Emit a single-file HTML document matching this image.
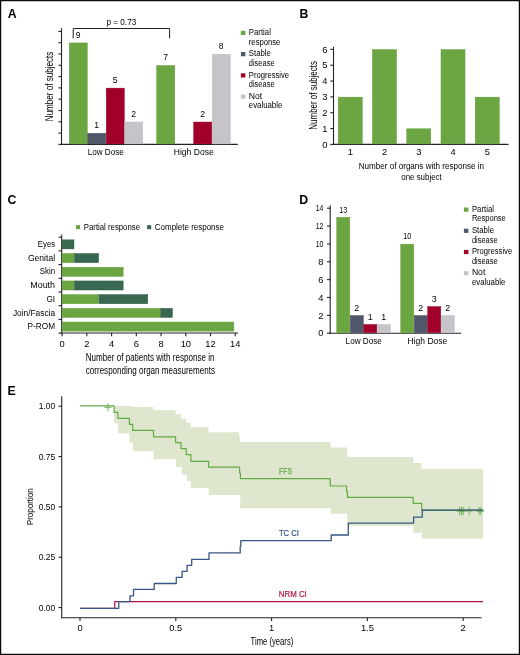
<!DOCTYPE html>
<html><head><meta charset="utf-8"><style>
html,body{margin:0;padding:0;background:#fff;}
svg{display:block;will-change:transform;}
text{font-family:"Liberation Sans", sans-serif;}
</style></head><body>
<svg width="520" height="655" viewBox="0 0 520 655">
<rect x="0" y="0" width="520" height="655" fill="#fff"/>
<text x="7.70" y="17.80" font-size="12.3" fill="#000" font-weight="bold">A</text>
<line x1="61.50" y1="28.30" x2="61.50" y2="144.95" stroke="#222222" stroke-width="1.1"/>
<line x1="58.40" y1="144.40" x2="61.50" y2="144.40" stroke="#222222" stroke-width="1.1"/>
<line x1="58.40" y1="133.10" x2="61.50" y2="133.10" stroke="#222222" stroke-width="1.1"/>
<line x1="58.40" y1="121.80" x2="61.50" y2="121.80" stroke="#222222" stroke-width="1.1"/>
<line x1="58.40" y1="110.50" x2="61.50" y2="110.50" stroke="#222222" stroke-width="1.1"/>
<line x1="58.40" y1="99.20" x2="61.50" y2="99.20" stroke="#222222" stroke-width="1.1"/>
<line x1="58.40" y1="87.90" x2="61.50" y2="87.90" stroke="#222222" stroke-width="1.1"/>
<line x1="58.40" y1="76.60" x2="61.50" y2="76.60" stroke="#222222" stroke-width="1.1"/>
<line x1="58.40" y1="65.30" x2="61.50" y2="65.30" stroke="#222222" stroke-width="1.1"/>
<line x1="58.40" y1="54.00" x2="61.50" y2="54.00" stroke="#222222" stroke-width="1.1"/>
<line x1="58.40" y1="42.70" x2="61.50" y2="42.70" stroke="#222222" stroke-width="1.1"/>
<line x1="58.40" y1="31.40" x2="61.50" y2="31.40" stroke="#222222" stroke-width="1.1"/>
<line x1="60.95" y1="144.40" x2="237.80" y2="144.40" stroke="#222222" stroke-width="1.1"/>
<rect x="69.25" y="42.95" width="18.00" height="100.95" fill="#6ba643" stroke="#5e9d35" stroke-width="0.5"/>
<text x="78.25" y="37.70" font-size="8.6" text-anchor="middle">9</text>
<rect x="87.75" y="133.35" width="18.00" height="10.55" fill="#505768" stroke="#464d5e" stroke-width="0.5"/>
<text x="96.75" y="128.10" font-size="8.6" text-anchor="middle">1</text>
<rect x="106.25" y="88.15" width="18.00" height="55.75" fill="#a2002a" stroke="#950025" stroke-width="0.5"/>
<text x="115.25" y="82.90" font-size="8.6" text-anchor="middle">5</text>
<rect x="124.75" y="122.05" width="18.00" height="21.85" fill="#c6c4c9" stroke="#bdbbc0" stroke-width="0.5"/>
<text x="133.75" y="116.80" font-size="8.6" text-anchor="middle">2</text>
<rect x="156.75" y="65.55" width="18.00" height="78.35" fill="#6ba643" stroke="#5e9d35" stroke-width="0.5"/>
<text x="165.75" y="60.30" font-size="8.6" text-anchor="middle">7</text>
<rect x="193.75" y="122.05" width="18.00" height="21.85" fill="#a2002a" stroke="#950025" stroke-width="0.5"/>
<text x="202.75" y="116.80" font-size="8.6" text-anchor="middle">2</text>
<rect x="212.25" y="54.25" width="18.00" height="89.65" fill="#c6c4c9" stroke="#bdbbc0" stroke-width="0.5"/>
<text x="221.25" y="49.00" font-size="8.6" text-anchor="middle">8</text>
<path d="M73.2 38.4V28.5H169.6V38.4" fill="none" stroke="#222222" stroke-width="1"/>
<text x="106.50" y="25.20" font-size="8.3" textLength="29.70" lengthAdjust="spacingAndGlyphs">p = 0.73</text>
<text x="87.70" y="155.00" font-size="9.3" textLength="36.10" lengthAdjust="spacingAndGlyphs">Low Dose</text>
<text x="173.80" y="155.00" font-size="9.3" textLength="39.90" lengthAdjust="spacingAndGlyphs">High Dose</text>
<text x="52.80" y="121.20" font-size="10.4" textLength="69.60" lengthAdjust="spacingAndGlyphs" transform="rotate(-90 52.80 121.20)">Number of subjects</text>
<rect x="240.90" y="30.80" width="4.50" height="4.20" fill="#6ba643"/>
<text x="248.80" y="35.20" font-size="8.5" textLength="22.10" lengthAdjust="spacingAndGlyphs">Partial</text>
<text x="248.80" y="44.70" font-size="8.5" textLength="31.60" lengthAdjust="spacingAndGlyphs">response</text>
<rect x="240.90" y="52.05" width="4.50" height="4.20" fill="#505768"/>
<text x="248.80" y="56.45" font-size="8.5" textLength="22.10" lengthAdjust="spacingAndGlyphs">Stable</text>
<text x="248.80" y="65.95" font-size="8.5" textLength="25.80" lengthAdjust="spacingAndGlyphs">disease</text>
<rect x="240.90" y="73.30" width="4.50" height="4.20" fill="#a2002a"/>
<text x="248.80" y="77.70" font-size="8.5" textLength="40.30" lengthAdjust="spacingAndGlyphs">Progressive</text>
<text x="248.80" y="87.20" font-size="8.5" textLength="25.80" lengthAdjust="spacingAndGlyphs">disease</text>
<rect x="240.90" y="94.55" width="4.50" height="4.20" fill="#c6c4c9"/>
<text x="248.80" y="98.95" font-size="8.5" textLength="13.40" lengthAdjust="spacingAndGlyphs">Not</text>
<text x="248.80" y="108.45" font-size="8.5" textLength="33.50" lengthAdjust="spacingAndGlyphs">evaluable</text>
<text x="299.50" y="17.60" font-size="12.3" fill="#000" font-weight="bold">B</text>
<line x1="333.50" y1="46.90" x2="333.50" y2="144.95" stroke="#222222" stroke-width="1.1"/>
<line x1="330.30" y1="144.40" x2="333.50" y2="144.40" stroke="#222222" stroke-width="1.1"/>
<text x="327.30" y="147.60" font-size="9.3" text-anchor="end">0</text>
<line x1="330.30" y1="128.57" x2="333.50" y2="128.57" stroke="#222222" stroke-width="1.1"/>
<text x="327.30" y="131.77" font-size="9.3" text-anchor="end">1</text>
<line x1="330.30" y1="112.74" x2="333.50" y2="112.74" stroke="#222222" stroke-width="1.1"/>
<text x="327.30" y="115.94" font-size="9.3" text-anchor="end">2</text>
<line x1="330.30" y1="96.91" x2="333.50" y2="96.91" stroke="#222222" stroke-width="1.1"/>
<text x="327.30" y="100.11" font-size="9.3" text-anchor="end">3</text>
<line x1="330.30" y1="81.08" x2="333.50" y2="81.08" stroke="#222222" stroke-width="1.1"/>
<text x="327.30" y="84.28" font-size="9.3" text-anchor="end">4</text>
<line x1="330.30" y1="65.25" x2="333.50" y2="65.25" stroke="#222222" stroke-width="1.1"/>
<text x="327.30" y="68.45" font-size="9.3" text-anchor="end">5</text>
<line x1="330.30" y1="49.42" x2="333.50" y2="49.42" stroke="#222222" stroke-width="1.1"/>
<text x="327.30" y="52.62" font-size="9.3" text-anchor="end">6</text>
<line x1="332.95" y1="144.40" x2="508.60" y2="144.40" stroke="#222222" stroke-width="1.1"/>
<rect x="338.25" y="97.16" width="24.00" height="46.74" fill="#6ba643" stroke="#5e9d35" stroke-width="0.5"/>
<text x="350.25" y="154.90" font-size="9.3" text-anchor="middle">1</text>
<rect x="372.50" y="49.67" width="24.00" height="94.23" fill="#6ba643" stroke="#5e9d35" stroke-width="0.5"/>
<text x="384.50" y="154.90" font-size="9.3" text-anchor="middle">2</text>
<rect x="406.75" y="128.82" width="24.00" height="15.08" fill="#6ba643" stroke="#5e9d35" stroke-width="0.5"/>
<text x="418.75" y="154.90" font-size="9.3" text-anchor="middle">3</text>
<rect x="441.00" y="49.67" width="24.00" height="94.23" fill="#6ba643" stroke="#5e9d35" stroke-width="0.5"/>
<text x="453.00" y="154.90" font-size="9.3" text-anchor="middle">4</text>
<rect x="475.25" y="97.16" width="24.00" height="46.74" fill="#6ba643" stroke="#5e9d35" stroke-width="0.5"/>
<text x="487.25" y="154.90" font-size="9.3" text-anchor="middle">5</text>
<text x="316.90" y="129.70" font-size="10.4" textLength="68.70" lengthAdjust="spacingAndGlyphs" transform="rotate(-90 316.90 129.70)">Number of subjects</text>
<text x="358.70" y="168.70" font-size="9.6" textLength="125.40" lengthAdjust="spacingAndGlyphs">Number of organs with response in</text>
<text x="401.30" y="179.60" font-size="9.6" textLength="40.40" lengthAdjust="spacingAndGlyphs">one subject</text>
<text x="7.60" y="203.80" font-size="12.3" fill="#000" font-weight="bold">C</text>
<rect x="76.00" y="225.10" width="4.10" height="4.10" fill="#6ba643"/>
<text x="83.80" y="229.60" font-size="8.3" textLength="56.20" lengthAdjust="spacingAndGlyphs">Partial response</text>
<rect x="147.10" y="225.10" width="4.10" height="4.10" fill="#38684f"/>
<text x="154.80" y="229.60" font-size="8.3" textLength="69.20" lengthAdjust="spacingAndGlyphs">Complete response</text>
<line x1="61.70" y1="234.40" x2="61.70" y2="333.55" stroke="#222222" stroke-width="1.1"/>
<line x1="58.50" y1="237.20" x2="61.70" y2="237.20" stroke="#222222" stroke-width="1.1"/>
<line x1="58.50" y1="250.90" x2="61.70" y2="250.90" stroke="#222222" stroke-width="1.1"/>
<line x1="58.50" y1="264.60" x2="61.70" y2="264.60" stroke="#222222" stroke-width="1.1"/>
<line x1="58.50" y1="278.30" x2="61.70" y2="278.30" stroke="#222222" stroke-width="1.1"/>
<line x1="58.50" y1="292.00" x2="61.70" y2="292.00" stroke="#222222" stroke-width="1.1"/>
<line x1="58.50" y1="305.70" x2="61.70" y2="305.70" stroke="#222222" stroke-width="1.1"/>
<line x1="58.50" y1="319.40" x2="61.70" y2="319.40" stroke="#222222" stroke-width="1.1"/>
<line x1="58.50" y1="333.10" x2="61.70" y2="333.10" stroke="#222222" stroke-width="1.1"/>
<line x1="61.15" y1="333.00" x2="238.00" y2="333.00" stroke="#222222" stroke-width="1.1"/>
<line x1="62.10" y1="333.00" x2="62.10" y2="336.20" stroke="#222222" stroke-width="1.1"/>
<text x="62.10" y="347.20" font-size="9.3" text-anchor="middle">0</text>
<line x1="86.84" y1="333.00" x2="86.84" y2="336.20" stroke="#222222" stroke-width="1.1"/>
<text x="86.84" y="347.20" font-size="9.3" text-anchor="middle">2</text>
<line x1="111.58" y1="333.00" x2="111.58" y2="336.20" stroke="#222222" stroke-width="1.1"/>
<text x="111.58" y="347.20" font-size="9.3" text-anchor="middle">4</text>
<line x1="136.32" y1="333.00" x2="136.32" y2="336.20" stroke="#222222" stroke-width="1.1"/>
<text x="136.32" y="347.20" font-size="9.3" text-anchor="middle">6</text>
<line x1="161.06" y1="333.00" x2="161.06" y2="336.20" stroke="#222222" stroke-width="1.1"/>
<text x="161.06" y="347.20" font-size="9.3" text-anchor="middle">8</text>
<line x1="185.80" y1="333.00" x2="185.80" y2="336.20" stroke="#222222" stroke-width="1.1"/>
<text x="185.80" y="347.20" font-size="9.3" text-anchor="middle">10</text>
<line x1="210.54" y1="333.00" x2="210.54" y2="336.20" stroke="#222222" stroke-width="1.1"/>
<text x="210.54" y="347.20" font-size="9.3" text-anchor="middle">12</text>
<line x1="235.28" y1="333.00" x2="235.28" y2="336.20" stroke="#222222" stroke-width="1.1"/>
<text x="235.28" y="347.20" font-size="9.3" text-anchor="middle">14</text>
<rect x="62.15" y="239.85" width="11.80" height="9.05" fill="#38684f" stroke="#2f5c44" stroke-width="0.5"/>
<text x="55.10" y="247.00" font-size="8.9" text-anchor="end" textLength="17.30" lengthAdjust="spacingAndGlyphs">Eyes</text>
<rect x="62.15" y="253.55" width="11.80" height="9.05" fill="#6ba643" stroke="#5e9d35" stroke-width="0.5"/>
<rect x="74.45" y="253.55" width="24.10" height="9.05" fill="#38684f" stroke="#2f5c44" stroke-width="0.5"/>
<text x="55.10" y="260.70" font-size="8.9" text-anchor="end" textLength="27.20" lengthAdjust="spacingAndGlyphs">Genital</text>
<rect x="62.15" y="267.25" width="61.00" height="9.05" fill="#6ba643" stroke="#5e9d35" stroke-width="0.5"/>
<text x="55.10" y="274.40" font-size="8.9" text-anchor="end" textLength="15.30" lengthAdjust="spacingAndGlyphs">Skin</text>
<rect x="62.15" y="280.95" width="11.80" height="9.05" fill="#6ba643" stroke="#5e9d35" stroke-width="0.5"/>
<rect x="74.45" y="280.95" width="48.70" height="9.05" fill="#38684f" stroke="#2f5c44" stroke-width="0.5"/>
<text x="55.10" y="288.10" font-size="8.9" text-anchor="end" textLength="24.90" lengthAdjust="spacingAndGlyphs">Mouth</text>
<rect x="62.15" y="294.65" width="36.40" height="9.05" fill="#6ba643" stroke="#5e9d35" stroke-width="0.5"/>
<rect x="99.05" y="294.65" width="48.70" height="9.05" fill="#38684f" stroke="#2f5c44" stroke-width="0.5"/>
<text x="55.10" y="301.80" font-size="8.9" text-anchor="end" textLength="8.60" lengthAdjust="spacingAndGlyphs">GI</text>
<rect x="62.15" y="308.35" width="97.90" height="9.05" fill="#6ba643" stroke="#5e9d35" stroke-width="0.5"/>
<rect x="160.55" y="308.35" width="11.80" height="9.05" fill="#38684f" stroke="#2f5c44" stroke-width="0.5"/>
<text x="55.10" y="315.50" font-size="8.9" text-anchor="end" textLength="42.20" lengthAdjust="spacingAndGlyphs">Join/Fascia</text>
<rect x="62.15" y="322.05" width="171.70" height="9.05" fill="#6ba643" stroke="#5e9d35" stroke-width="0.5"/>
<text x="55.10" y="329.20" font-size="8.9" text-anchor="end" textLength="27.50" lengthAdjust="spacingAndGlyphs">P-ROM</text>
<text x="85.80" y="361.30" font-size="10.0" textLength="128.70" lengthAdjust="spacingAndGlyphs">Number of patients with response in</text>
<text x="85.80" y="374.00" font-size="10.0" textLength="129.20" lengthAdjust="spacingAndGlyphs">corresponding organ measurements</text>
<text x="299.20" y="203.60" font-size="12.3" fill="#000" font-weight="bold">D</text>
<line x1="330.20" y1="205.30" x2="330.20" y2="333.75" stroke="#222222" stroke-width="1.1"/>
<line x1="327.00" y1="333.20" x2="330.20" y2="333.20" stroke="#222222" stroke-width="1.1"/>
<text x="323.40" y="336.40" font-size="9.3" text-anchor="end">0</text>
<line x1="327.00" y1="315.34" x2="330.20" y2="315.34" stroke="#222222" stroke-width="1.1"/>
<text x="323.40" y="318.54" font-size="9.3" text-anchor="end">2</text>
<line x1="327.00" y1="297.48" x2="330.20" y2="297.48" stroke="#222222" stroke-width="1.1"/>
<text x="323.40" y="300.68" font-size="9.3" text-anchor="end">4</text>
<line x1="327.00" y1="279.62" x2="330.20" y2="279.62" stroke="#222222" stroke-width="1.1"/>
<text x="323.40" y="282.82" font-size="9.3" text-anchor="end">6</text>
<line x1="327.00" y1="261.76" x2="330.20" y2="261.76" stroke="#222222" stroke-width="1.1"/>
<text x="323.40" y="264.96" font-size="9.3" text-anchor="end">8</text>
<line x1="327.00" y1="243.90" x2="330.20" y2="243.90" stroke="#222222" stroke-width="1.1"/>
<text x="323.40" y="247.10" font-size="9.3" text-anchor="end" textLength="7.70" lengthAdjust="spacingAndGlyphs">10</text>
<line x1="327.00" y1="226.04" x2="330.20" y2="226.04" stroke="#222222" stroke-width="1.1"/>
<text x="323.40" y="229.24" font-size="9.3" text-anchor="end" textLength="7.70" lengthAdjust="spacingAndGlyphs">12</text>
<line x1="327.00" y1="208.18" x2="330.20" y2="208.18" stroke="#222222" stroke-width="1.1"/>
<text x="323.40" y="211.38" font-size="9.3" text-anchor="end" textLength="7.70" lengthAdjust="spacingAndGlyphs">14</text>
<line x1="329.65" y1="333.20" x2="461.00" y2="333.20" stroke="#222222" stroke-width="1.1"/>
<rect x="336.75" y="217.36" width="13.00" height="115.34" fill="#6ba643" stroke="#5e9d35" stroke-width="0.5"/>
<text x="343.25" y="212.61" font-size="8.9" text-anchor="middle" textLength="7.90" lengthAdjust="spacingAndGlyphs">13</text>
<rect x="350.25" y="315.59" width="13.00" height="17.11" fill="#505768" stroke="#464d5e" stroke-width="0.5"/>
<text x="356.75" y="310.84" font-size="8.9" text-anchor="middle">2</text>
<rect x="363.75" y="324.52" width="13.00" height="8.18" fill="#a2002a" stroke="#950025" stroke-width="0.5"/>
<text x="370.25" y="319.77" font-size="8.9" text-anchor="middle">1</text>
<rect x="377.25" y="324.52" width="13.00" height="8.18" fill="#c6c4c9" stroke="#bdbbc0" stroke-width="0.5"/>
<text x="383.75" y="319.77" font-size="8.9" text-anchor="middle">1</text>
<rect x="400.75" y="244.15" width="13.00" height="88.55" fill="#6ba643" stroke="#5e9d35" stroke-width="0.5"/>
<text x="407.25" y="239.40" font-size="8.9" text-anchor="middle" textLength="7.90" lengthAdjust="spacingAndGlyphs">10</text>
<rect x="414.25" y="315.59" width="13.00" height="17.11" fill="#505768" stroke="#464d5e" stroke-width="0.5"/>
<text x="420.75" y="310.84" font-size="8.9" text-anchor="middle">2</text>
<rect x="427.75" y="306.66" width="13.00" height="26.04" fill="#a2002a" stroke="#950025" stroke-width="0.5"/>
<text x="434.25" y="301.91" font-size="8.9" text-anchor="middle">3</text>
<rect x="441.25" y="315.59" width="13.00" height="17.11" fill="#c6c4c9" stroke="#bdbbc0" stroke-width="0.5"/>
<text x="447.75" y="310.84" font-size="8.9" text-anchor="middle">2</text>
<text x="345.60" y="344.00" font-size="9.3" textLength="36.30" lengthAdjust="spacingAndGlyphs">Low Dose</text>
<text x="407.60" y="344.00" font-size="9.3" textLength="39.70" lengthAdjust="spacingAndGlyphs">High Dose</text>
<rect x="463.90" y="207.50" width="4.50" height="4.20" fill="#6ba643"/>
<text x="471.90" y="211.80" font-size="8.5" textLength="22.10" lengthAdjust="spacingAndGlyphs">Partial</text>
<text x="471.90" y="221.30" font-size="8.5" textLength="33.90" lengthAdjust="spacingAndGlyphs">Response</text>
<rect x="463.90" y="228.70" width="4.50" height="4.20" fill="#505768"/>
<text x="471.90" y="233.00" font-size="8.5" textLength="22.10" lengthAdjust="spacingAndGlyphs">Stable</text>
<text x="471.90" y="242.50" font-size="8.5" textLength="25.80" lengthAdjust="spacingAndGlyphs">disease</text>
<rect x="463.90" y="249.90" width="4.50" height="4.20" fill="#a2002a"/>
<text x="471.90" y="254.20" font-size="8.5" textLength="40.30" lengthAdjust="spacingAndGlyphs">Progressive</text>
<text x="471.90" y="263.70" font-size="8.5" textLength="25.80" lengthAdjust="spacingAndGlyphs">disease</text>
<rect x="463.90" y="271.10" width="4.50" height="4.20" fill="#c6c4c9"/>
<text x="471.90" y="275.40" font-size="8.5" textLength="13.40" lengthAdjust="spacingAndGlyphs">Not</text>
<text x="471.90" y="284.90" font-size="8.5" textLength="33.50" lengthAdjust="spacingAndGlyphs">evaluable</text>
<text x="7.50" y="395.10" font-size="12.3" fill="#000" font-weight="bold">E</text>
<path d="M114.1 405.8V405.8H131.7V407.0H153.3V410.3H175.6V414.3H181.2V418.8H186.2V423.1H190.9V427.3H208.5V432.3H239.2V437.3H240.0V442.1H330.6V447.5H347.0V457.1H413.3V463.0H421.5V468.8H483.1V538.5H422.0V532.7H413.3V526.0H347.3V513.8H330.6V508.3H240.2V494.9H208.7V488.1H190.9V481.0H187.0V474.7H181.8V467.0H176.0V459.3H153.7V451.0H132.9V442.4H129.4V433.2H118.0V423.2H114.1Z" fill="#dee7ce"/>
<line x1="61.75" y1="396.20" x2="61.75" y2="618.25" stroke="#222222" stroke-width="1.1"/>
<line x1="58.50" y1="406.20" x2="61.75" y2="406.20" stroke="#222222" stroke-width="1.1"/>
<text x="55.20" y="409.20" font-size="9.5" text-anchor="end" textLength="16.40" lengthAdjust="spacingAndGlyphs">1.00</text>
<line x1="58.50" y1="456.54" x2="61.75" y2="456.54" stroke="#222222" stroke-width="1.1"/>
<text x="55.20" y="459.54" font-size="9.5" text-anchor="end" textLength="16.40" lengthAdjust="spacingAndGlyphs">0.75</text>
<line x1="58.50" y1="506.87" x2="61.75" y2="506.87" stroke="#222222" stroke-width="1.1"/>
<text x="55.20" y="509.87" font-size="9.5" text-anchor="end" textLength="16.40" lengthAdjust="spacingAndGlyphs">0.50</text>
<line x1="58.50" y1="557.21" x2="61.75" y2="557.21" stroke="#222222" stroke-width="1.1"/>
<text x="55.20" y="560.21" font-size="9.5" text-anchor="end" textLength="16.40" lengthAdjust="spacingAndGlyphs">0.25</text>
<line x1="58.50" y1="607.55" x2="61.75" y2="607.55" stroke="#222222" stroke-width="1.1"/>
<text x="55.20" y="610.55" font-size="9.5" text-anchor="end" textLength="16.40" lengthAdjust="spacingAndGlyphs">0.00</text>
<line x1="61.20" y1="617.70" x2="481.50" y2="617.70" stroke="#222222" stroke-width="1.1"/>
<line x1="80.00" y1="617.70" x2="80.00" y2="620.90" stroke="#222222" stroke-width="1.1"/>
<text x="80.00" y="631.10" font-size="9.4" text-anchor="middle">0</text>
<line x1="175.80" y1="617.70" x2="175.80" y2="620.90" stroke="#222222" stroke-width="1.1"/>
<text x="175.80" y="631.10" font-size="9.4" text-anchor="middle">0.5</text>
<line x1="271.60" y1="617.70" x2="271.60" y2="620.90" stroke="#222222" stroke-width="1.1"/>
<text x="271.60" y="631.10" font-size="9.4" text-anchor="middle">1</text>
<line x1="367.40" y1="617.70" x2="367.40" y2="620.90" stroke="#222222" stroke-width="1.1"/>
<text x="367.40" y="631.10" font-size="9.4" text-anchor="middle">1.5</text>
<line x1="463.20" y1="617.70" x2="463.20" y2="620.90" stroke="#222222" stroke-width="1.1"/>
<text x="463.20" y="631.10" font-size="9.4" text-anchor="middle">2</text>
<text x="32.90" y="525.20" font-size="9.6" textLength="37.00" lengthAdjust="spacingAndGlyphs" transform="rotate(-90 32.90 525.20)">Proportion</text>
<text x="250.60" y="644.70" font-size="10.2" textLength="42.70" lengthAdjust="spacingAndGlyphs">Time (years)</text>
<path d="M80.0 608.4H114.8V601.6H483.1" fill="none" stroke="#ae1540" stroke-width="1.2"/>
<path d="M80.0 405.8H114.1V412.4H117.9V418.4H129.4V424.3H132.7V430.3H153.5V436.9H175.6V442.7H181.0V448.6H186.2V454.6H190.9V461.3H208.7V467.2H239.6V472.9H240.4V478.7H330.2V486.0H346.5V491.2H347.4V497.4H413.2V503.4H421.7V510.2H483.1" fill="none" stroke="#64a845" stroke-width="1.2" stroke-linejoin="round"/>
<path d="M104.30 407.30H111.50M107.90 403.20V411.40" stroke="#64a845" stroke-width="1.0" opacity="0.85"/>
<path d="M456.00 511.00H463.20M459.60 506.90V515.10" stroke="#64a845" stroke-width="1.0" opacity="0.85"/>
<path d="M457.90 511.00H465.10M461.50 506.90V515.10" stroke="#64a845" stroke-width="1.0" opacity="0.85"/>
<path d="M459.50 511.00H466.70M463.10 506.90V515.10" stroke="#64a845" stroke-width="1.0" opacity="0.85"/>
<path d="M465.60 511.00H472.80M469.20 506.90V515.10" stroke="#64a845" stroke-width="1.0" opacity="0.85"/>
<path d="M475.60 511.00H482.80M479.20 506.90V515.10" stroke="#64a845" stroke-width="1.0" opacity="0.85"/>
<path d="M477.20 511.00H484.40M480.80 506.90V515.10" stroke="#64a845" stroke-width="1.0" opacity="0.85"/>
<path d="M80.0 608.3H118.8V601.6H130.0V595.8H133.5V589.4H154.2V583.5H176.3V577.3H182.1V571.3H187.1V565.3H191.7V559.4H209.0V552.9H240.2V546.4H240.8V540.6H331.2V535.0H348.3V523.1H413.6V517.1H422.3V510.2H483.1" fill="none" stroke="#385686" stroke-width="1.3" stroke-linejoin="round"/>
<text x="279.00" y="474.20" font-size="8.8" textLength="13.00" lengthAdjust="spacingAndGlyphs" fill="#62aa48" stroke="#62aa48" stroke-width="0.25">FFS</text>
<text x="278.90" y="536.00" font-size="8.8" textLength="20.10" lengthAdjust="spacingAndGlyphs" fill="#34558a" stroke="#34558a" stroke-width="0.2">TC CI</text>
<text x="278.80" y="597.00" font-size="8.8" textLength="28.00" lengthAdjust="spacingAndGlyphs" fill="#b3153f" stroke="#b3153f" stroke-width="0.2">NRM CI</text>
<rect x="0.62" y="0.62" width="518.76" height="653.76" fill="none" stroke="#0a0a0a" stroke-width="1.24"/>
</svg>
</body></html>
